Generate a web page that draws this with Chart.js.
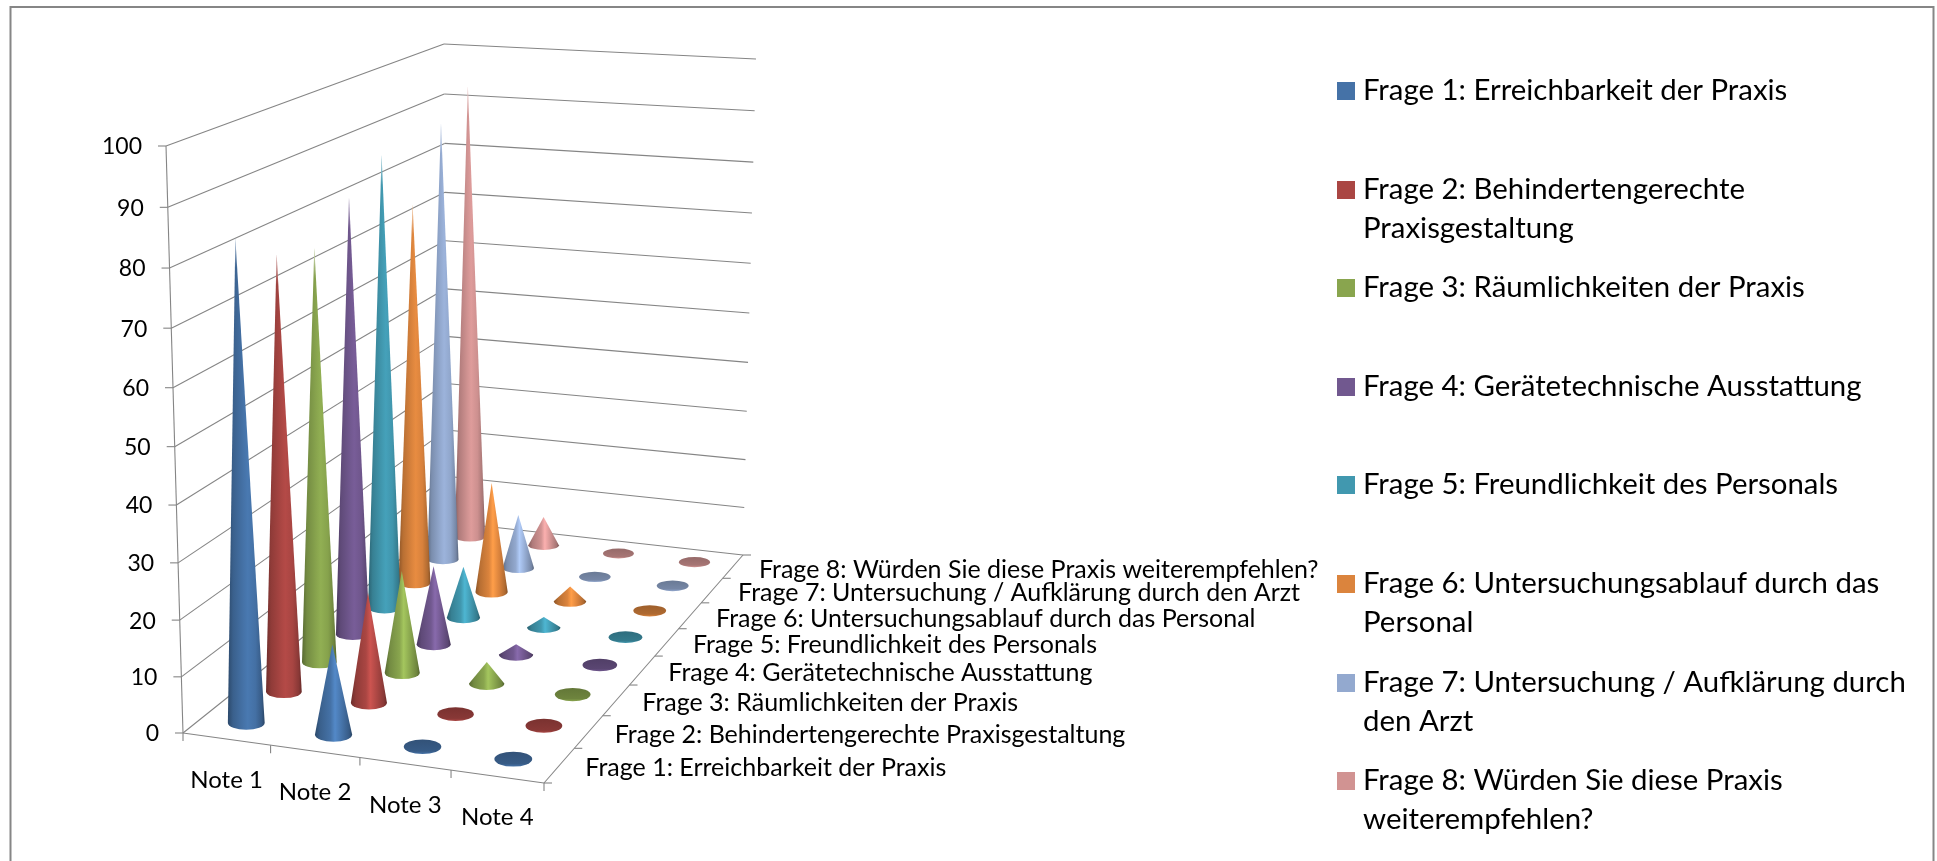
<!DOCTYPE html>
<html lang="de">
<head>
    <meta charset="UTF-8">
    <title>Frage / Note</title>
    <script src="https://cdn.jsdelivr.net/npm/chart.js"></script>
    <style>
        html, body { margin: 0; padding: 0; background: #fff; }
        canvas { display: block; }
    </style>
</head>
<body>
<canvas id="coneChart" width="1937" height="861"></canvas>
<script>
    const noten = ['Note 1', 'Note 2', 'Note 3', 'Note 4'];
    const fragen = [
        'Frage 1: Erreichbarkeit der Praxis',
        'Frage 2: Behindertengerechte Praxisgestaltung',
        'Frage 3: Räumlichkeiten der Praxis',
        'Frage 4: Gerätetechnische Ausstattung',
        'Frage 5: Freundlichkeit des Personals',
        'Frage 6: Untersuchungsablauf durch das Personal',
        'Frage 7: Untersuchung / Aufklärung durch den Arzt',
        'Frage 8: Würden Sie diese Praxis weiterempfehlen?'
    ];
    const frage1 = [84, 16, 0, 0];
    const frage2 = [78, 20, 0, 0];
    const frage3 = [76, 19, 4, 0];
    const frage4 = [82, 15, 2, 0];
    const frage5 = [87, 10, 2, 0];
    const frage6 = [75, 22, 3, 0];
    const frage7 = [88, 11, 0, 0];
    const frage8 = [93, 6, 0, 0];
    const werte = [frage1, frage2, frage3, frage4, frage5, frage6, frage7, frage8];
    const farben = ['#4572A7', '#AA4643', '#89A54E', '#71588F', '#4198AF', '#DB843D', '#93A9CF', '#D19392'];

    // corners of the 3D box on the page: floor and top plane
    const boxFloor = [[183, 733], [544, 783], [447, 522], [743, 555]];
    const boxTop = [[166, 146], [561, 177], [444, 44], [756, 59]];
    const gridColor = '#858585';
    const fontName = 'Lato, "Open Sans", sans-serif';

    // legend rows: y of each swatch centre
    const legendX = 1337;
    const legendRows = [91, 190, 288, 387, 485, 584, 683, 781];

    function quadMap(c) {
        const [p00, p10, p01, p11] = c;
        const dx1 = p10[0] - p11[0], dx2 = p01[0] - p11[0], sx = p00[0] - p10[0] + p11[0] - p01[0];
        const dy1 = p10[1] - p11[1], dy2 = p01[1] - p11[1], sy = p00[1] - p10[1] + p11[1] - p01[1];
        const den = dx1 * dy2 - dx2 * dy1;
        const g = (sx * dy2 - dx2 * sy) / den;
        const h = (dx1 * sy - sx * dy1) / den;
        return (u, v) => {
            const w = 1 + g * u + h * v;
            return [
                ((p10[0] - p00[0] + g * p10[0]) * u + (p01[0] - p00[0] + h * p01[0]) * v + p00[0]) / w,
                ((p10[1] - p00[1] + g * p10[1]) * u + (p01[1] - p00[1] + h * p01[1]) * v + p00[1]) / w,
                w
            ];
        };
    }
    const floorMap = quadMap(boxFloor);
    const topMap = quadMap(boxTop);

    // u, v, t are 0..1 along note axis, question axis and value axis
    function project(u, v, t) {
        const f = floorMap(u, v), c = topMap(u, v);
        const s = t / (1.05 - 0.05 * t);
        return [f[0] + (c[0] - f[0]) * s, f[1] + (c[1] - f[1]) * s, f[2]];
    }

    function scaleFractions(chart, noteIndex, frageIndex, value) {
        const s = chart.scales;
        return [
            (s.x.getPixelForValue(noteIndex) - s.x.left) / s.x.width,
            (s.depth.getPixelForValue(frageIndex) - s.depth.left) / s.depth.width,
            (s.y.bottom - s.y.getPixelForValue(value)) / s.y.height
        ];
    }

    function shade(hex, k) {
        const n = parseInt(hex.slice(1), 16);
        const c = [n >> 16, (n >> 8) & 255, n & 255].map(v => Math.min(255, Math.round(v * k)));
        return `rgb(${c[0]},${c[1]},${c[2]})`;
    }

    function drawCone(ctx, chart, i, j, value, color) {
        const [u, v, t] = scaleFractions(chart, i, j, value);
        const base = project(u, v, 0);
        const rx = 18.6 / base[2], ry = 7.2 / (base[2] * base[2]);

        if (value === 0) {
            const g = ctx.createLinearGradient(0, base[1] - ry, 0, base[1] + ry);
            g.addColorStop(0, shade(color, 0.72));
            g.addColorStop(0.8, shade(color, 0.8));
            g.addColorStop(1, shade(color, 1.0));
            ctx.fillStyle = g;
            ctx.beginPath();
            ctx.ellipse(base[0], base[1], rx, ry, 0, 0, Math.PI * 2);
            ctx.fill();
            return;
        }

        const tip = project(u, v, t);
        const light = t > 0.5 ? 1.06 : 1.2;
        const g = ctx.createLinearGradient(base[0] - rx, 0, base[0] + rx, 0);
        g.addColorStop(0, shade(color, 0.64));
        g.addColorStop(0.14, shade(color, 0.84));
        g.addColorStop(0.42, shade(color, 1.0));
        g.addColorStop(0.54, shade(color, light));
        g.addColorStop(0.75, shade(color, 0.98));
        g.addColorStop(0.92, shade(color, 0.8));
        g.addColorStop(1, shade(color, 0.6));

        ctx.beginPath();
        ctx.moveTo(tip[0], tip[1]);
        ctx.lineTo(base[0] + rx, base[1]);
        ctx.ellipse(base[0], base[1], rx, ry, 0, 0, Math.PI);
        ctx.closePath();
        ctx.fillStyle = g;
        ctx.fill();

        // the tip of the tall cones fades out in the original
        if (t > 0.5) {
            const fade = ctx.createLinearGradient(0, tip[1], 0, tip[1] + 30);
            fade.addColorStop(0, 'rgba(255,255,255,0.7)');
            fade.addColorStop(1, 'rgba(255,255,255,0)');
            ctx.fillStyle = fade;
            ctx.fill();
        }
    }

    class ConeController extends Chart.BarController {
        draw() {
            const ctx = this.chart.ctx;
            const color = this.getDataset().backgroundColor;
            ctx.save();
            this.getMeta().data.forEach((el, i) => {
                drawCone(ctx, this.chart, i, this.index, this.getParsed(i).y, color);
            });
            ctx.restore();
        }
    }
    ConeController.id = 'cone3d';
    ConeController.defaults = Chart.BarController.defaults;
    ConeController.overrides = Chart.BarController.overrides;
    Chart.register(ConeController);

    function line(ctx, a, b) {
        ctx.beginPath();
        ctx.moveTo(a[0], a[1]);
        ctx.lineTo(b[0], b[1]);
        ctx.stroke();
    }

    const boxPlugin = {
        id: 'box3d',
        beforeDatasetsDraw(chart) {
            const ctx = chart.ctx;
            const yScale = chart.scales.y;
            ctx.save();
            // outer frame, runs off the bottom of the picture
            ctx.strokeStyle = '#868686';
            ctx.lineWidth = 2;
            ctx.strokeRect(10.5, 7, 1923, 900);

            ctx.strokeStyle = gridColor;
            ctx.lineWidth = 1.1;
            yScale.ticks.forEach(tick => {
                const t = (yScale.bottom - yScale.getPixelForValue(tick.value)) / yScale.height;
                line(ctx, project(0, 0, t), project(0, 1, t));
                line(ctx, project(0, 1, t), project(1, 1, t));
                const p = project(0, 0, t);
                line(ctx, [p[0] - 8, p[1]], p);
            });
            line(ctx, project(0, 0, 0), project(0, 0, 1));
            line(ctx, project(0, 0, 0), project(1, 0, 0));
            line(ctx, project(1, 0, 0), project(1, 1, 0));
            for (let i = 0; i <= noten.length; i++) {
                const p = project(i / noten.length, 0, 0);
                line(ctx, p, [p[0], p[1] + 8]);
            }
            for (let j = 0; j <= fragen.length; j++) {
                const p = project(1, j / fragen.length, 0);
                line(ctx, p, [p[0] + 8, p[1]]);
            }
            ctx.restore();
        },
        afterDatasetsDraw(chart) {
            const ctx = chart.ctx;
            const s = chart.scales;
            ctx.save();
            ctx.fillStyle = '#000';
            ctx.textBaseline = 'middle';

            // value axis
            ctx.font = `23px ${fontName}`;
            ctx.textAlign = 'right';
            s.y.ticks.forEach(tick => {
                const t = (s.y.bottom - s.y.getPixelForValue(tick.value)) / s.y.height;
                const p = project(0, 0, t);
                ctx.fillText(tick.label, p[0] - 16 - 8, p[1] + 1);
            });

            // note axis
            ctx.font = `24px ${fontName}`;
            ctx.textAlign = 'center';
            noten.forEach((label, i) => {
                const [u] = scaleFractions(chart, i, 0, 0);
                const p = project(u, 0, 0);
                ctx.fillText(label, p[0], p[1] + 41);
            });

            // question axis
            ctx.font = `25px ${fontName}`;
            ctx.textAlign = 'left';
            fragen.forEach((label, j) => {
                const [, v] = scaleFractions(chart, 0, j, 0);
                const p = project(1, v, 0);
                ctx.fillText(label, p[0] + 26, p[1] + 3);
            });

            // legend
            ctx.font = `29.4px ${fontName}`;
            chart.data.datasets.forEach((ds, j) => {
                const y = legendRows[j];
                ctx.fillStyle = ds.backgroundColor;
                ctx.fillRect(legendX, y - 9, 18, 18);
                ctx.fillStyle = '#000';
                let row = '', lineNo = 0;
                ds.label.split(' ').forEach(word => {
                    const next = row ? row + ' ' + word : word;
                    if (ctx.measureText(next).width > 552) {
                        ctx.fillText(row, legendX + 26, y + lineNo * 39);
                        lineNo++;
                        row = word;
                    } else {
                        row = next;
                    }
                });
                ctx.fillText(row, legendX + 26, y + lineNo * 39);
            });
            ctx.restore();
        }
    };

    new Chart(document.getElementById('coneChart').getContext('2d'), {
        type: 'cone3d',
        data: {
            labels: noten,
            datasets: fragen.map((name, j) => ({
                label: name,
                data: werte[j],
                backgroundColor: farben[j]
            }))
        },
        options: {
            responsive: false,
            animation: false,
            events: [],
            plugins: { legend: { display: false }, tooltip: { enabled: false } },
            scales: {
                x: { type: 'category', offset: true, display: false },
                depth: { type: 'category', axis: 'x', labels: fragen, offset: true, display: false, ticks: { autoSkip: false } },
                y: { type: 'linear', min: 0, max: 100, display: false, ticks: { stepSize: 10 } }
            }
        },
        plugins: [boxPlugin]
    });
</script>
</body>
</html>
